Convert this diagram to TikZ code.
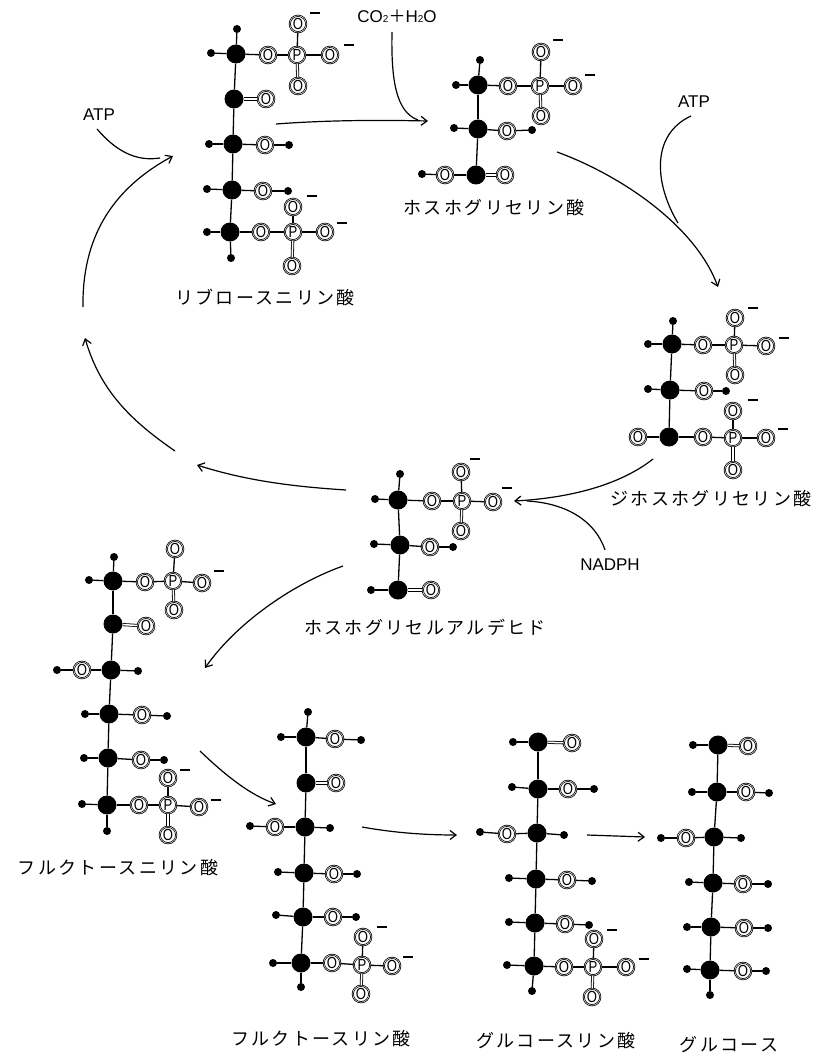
\documentclass[tikz,border=0pt]{standalone}
\usepackage{fontspec}
\setmainfont{Liberation Sans}
\newfontfamily\jp{Noto Sans CJK JP}
\newfontfamily\ringf[FakeStretch=0.82]{Liberation Sans}
\usetikzlibrary{arrows.meta}
\newcommand\lab{\fontsize{18}{18}\selectfont\jp\addfontfeature{LetterSpace=13}}
\tikzset{
 carb/.style={circle,fill=black,minimum size=19pt,inner sep=0pt},
 hyd/.style={circle,fill=black,minimum size=8pt,inner sep=0pt},
 oxy/.style={circle,draw=black,line width=.75pt,double=white,double distance=.5pt,fill=white,minimum size=16.5pt,inner sep=0pt,font=\ringf\fontsize{16}{16}\selectfont},
 bond/.style={line width=1.3pt,black},
 dbl/.style={line width=.8pt,double=white,double distance=1.5pt,black},
 chg/.style={fill=black,minimum width=10pt,minimum height=1.4pt,inner sep=0pt},
 flow/.style={line width=1.2pt,-{Straight Barb[length=6pt,width=9pt]}},
 feed/.style={line width=1.2pt},
 note/.style={font=\fontsize{17}{17}\selectfont,inner sep=0pt},
 lbl/.style={inner sep=0pt}
}
\begin{document}
\begin{tikzpicture}[x=1pt,y=-1pt]
\useasboundingbox (0,0) rectangle (830,1056);
% carbons
\foreach \n/\x/\y in {
 a1/236/54,a2/234/99,a3/233/144,a4/232/190,a5/230/232,
 b1/478/85,b2/478/129,b3/476/175,
 c1/672/344,c2/670/390,c3/669/437,
 d1/398/500,d2/400/545,d3/398/590,
 e1/113/581,e2/113/624,e3/111/670,e4/109/714,e5/108/758,e6/107/805,
 f1/306/737,f2/306/783,f3/305/827,f4/304/873,f5/303/917,f6/301/963,
 g1/538/742,g2/538/789,g3/537/833,g4/536/879,g5/535/923,g6/534/966,
 h1/718/745,h2/717/792,h3/714/837,h4/713/883,h5/711/927,h6/710/970}
 \node[carb] (\n) at (\x,\y) {};
% hydrogens
\foreach \n/\x/\y in {
 aT/237/29,aL/211/53,a3L/209/144,a3R/289/145,a4L/207/189,a4R/288/191,a5L/207/232,a5B/231/258,
 bT/480/60,bL/456/85,b2L/454/128,b2R/532/130,b3L/422/174,
 cT/673/321,cL/648/344,c2L/648/389,c2R/726/391,
 dT/400/474,dL/375/499,d2L/374/544,d2R/453/547,d3L/371/590,
 eT/114/557,eL/89/580,e3L/57/670,e3R/138/671,e4L/85/714,e4R/167/716,e5L/84/758,e5R/164/760,e6L/82/804,e6B/107/831,
 fT/308/712,fL/281/737,fR/361/740,f3L/250/826,f3R/330/828,f4L/278/872,f4R/357/874,f5L/276/915,f5R/356/917,f6L/273/963,f6B/301/987,
 g1L/513/742,g2L/512/787,g2R/594/789,g3L/480/832,g3R/564/835,g4L/509/878,g4R/592/881,g5L/509/922,g5R/589/925,g6L/507/965,g6B/532/991,
 h1L/693/745,h2L/692/792,h2R/769/793,h3L/661/838,h3R/741/838,h4L/689/882,h4R/768/884,h5L/687/927,h5R/768/928,h6L/687/969,h6R/766/971,h6B/710/995}
 \node[hyd] (\n) at (\x,\y) {};
% oxygens
\foreach \n/\x/\y in {
 aO1/268/55,aOt/298/24,aOb/298/86,aOr/330/55,a2O/266/99,a3O/265/145,a4O/263/191,a5O/261/232,a5t/293/207,a5b/292/266,a5r/325/232,
 bO1/508/86,bOt/541/52,bOb/541/116,bOr/573/86,b2O/507/131,b3O/445/175,b3D/505/175,
 cO1/703/345,cOt/735/318,cOb/735/375,cOr/766/346,c2O/704/391,c3O/638/437,c3D/703/437,c3t/733/411,c3b/733/470,c3r/766/438,
 dO1/432/501,dOt/461/472,dOb/461/531,dOr/493/502,d2O/430/547,d3O/431/590,
 eO1/145/582,eOt/175/549,eOb/174/610,eOr/202/583,e2O/146/626,e3O/82/670,e4O/142/715,e5O/141/760,e6O/139/805,e6t/168/778,e6b/168/835,e6r/199/807,
 fO1/335/739,f2O/336/783,f3O/275/827,f4O/334/874,f5O/333/917,f6O/332/963,f6t/363/937,f6b/361/994,f6r/392/966,
 gD/572/743,g2O/568/789,g3O/507/834,g4O/567/880,g5O/565/924,g6O/564/967,g6t/594/939,g6b/592/997,g6r/626/967,
 hD/748/746,h2O/746/792,h3O/686/838,h4O/743/884,h5O/744/928,h6O/743/971}
 \node[oxy] (\n) at (\x,\y) {O};
% phosphorus
\foreach \n/\x/\y in {aP/297/55,a5P/293/232,bP/540/86,cP/734/345,c3P/733/438,dP/462/501,eP/173/581,e6P/168/805,f6P/362/965,g6P/593/967}
 \node[oxy] (\n) at (\x,\y) {P};
% single bonds
\foreach \p/\q in {
 a1/a2,a2/a3,a3/a4,a4/a5,a1/aT,a1/aL,a1/aO1,aO1/aP,aP/aOt,aP/aOr,a3/a3L,a3/a3O,a3O/a3R,a4/a4L,a4/a4O,a4O/a4R,a5/a5L,a5/a5B,a5/a5O,a5O/a5P,a5P/a5t,a5P/a5r,
 b1/b2,b2/b3,b1/bT,b1/bL,b1/bO1,bO1/bP,bP/bOt,bP/bOr,b2/b2L,b2/b2O,b2O/b2R,b3/b3O,b3O/b3L,
 c1/c2,c2/c3,c1/cT,c1/cL,c1/cO1,cO1/cP,cP/cOt,cP/cOr,c2/c2L,c2/c2O,c2O/c2R,c3/c3O,c3/c3D,c3D/c3P,c3P/c3t,c3P/c3r,
 d1/d2,d2/d3,d1/dT,d1/dL,d1/dO1,dO1/dP,dP/dOt,dP/dOr,d2/d2L,d2/d2O,d2O/d2R,d3/d3L,
 e1/e2,e2/e3,e3/e4,e4/e5,e5/e6,e1/eT,e1/eL,e1/eO1,eO1/eP,eP/eOt,eP/eOr,e3/e3O,e3O/e3L,e3/e3R,e4/e4L,e4/e4O,e4O/e4R,e5/e5L,e5/e5O,e5O/e5R,e6/e6L,e6/e6B,e6/e6O,e6O/e6P,e6P/e6t,e6P/e6r,
 f1/f2,f2/f3,f3/f4,f4/f5,f5/f6,f1/fT,f1/fL,f1/fO1,fO1/fR,f3/f3O,f3O/f3L,f3/f3R,f4/f4L,f4/f4O,f4O/f4R,f5/f5L,f5/f5O,f5O/f5R,f6/f6L,f6/f6B,f6/f6O,f6O/f6P,f6P/f6t,f6P/f6r,
 g1/g2,g2/g3,g3/g4,g4/g5,g5/g6,g1/g1L,g2/g2L,g2/g2O,g2O/g2R,g3/g3O,g3O/g3L,g3/g3R,g4/g4L,g4/g4O,g4O/g4R,g5/g5L,g5/g5O,g5O/g5R,g6/g6L,g6/g6B,g6/g6O,g6O/g6P,g6P/g6t,g6P/g6r,
 h1/h2,h2/h3,h3/h4,h4/h5,h5/h6,h1/h1L,h2/h2L,h2/h2O,h2O/h2R,h3/h3O,h3O/h3L,h3/h3R,h4/h4L,h4/h4O,h4O/h4R,h5/h5L,h5/h5O,h5O/h5R,h6/h6L,h6/h6B,h6/h6O,h6O/h6R}
 \draw[bond] (\p) -- (\q);
% double bonds
\foreach \p/\q in {aP/aOb,a2/a2O,a5P/a5b,bP/bOb,b3/b3D,cP/cOb,c3P/c3b,dP/dOb,d3/d3O,eP/eOb,e2/e2O,e6P/e6b,f2/f2O,f6P/f6b,g1/gD,g6P/g6b,h1/hD}
 \draw[dbl] (\p) -- (\q);
% charges
\foreach \n/\x/\y in {ma/315/13,mb/349/45,mc/312/196,md/342/223,me/558/40,mf/590/75,mg/753/308,mh/784/338,mi/753/400,mj/783/429,mk/475/459,ml/507/488,mm/219/571,mn/185/770,mo/216/800,mp/382/927,mq/408/957,mr/612/930,ms/644/959}
 \node[chg] (\n) at (\x,\y) {};
% labels
\node[lbl] (Lc) at (265,298) {\lab リブロースニリン酸};
\node[lbl] (Lb) at (494,208) {\lab ホスホグリセリン酸};
\node[lbl] (Ld) at (711,499) {\lab ジホスホグリセリン酸};
\node[lbl] (Le) at (425,627) {\lab ホスホグリセルアルデヒド};
\node[lbl] (Lf) at (118,868) {\lab フルクトースニリン酸};
\node[lbl] (Lg) at (321,1039) {\lab フルクトースリン酸};
\node[lbl] (Lh) at (556,1041) {\lab グルコースリン酸};
\node[lbl] (Li) at (729,1045) {\lab グルコース};
\node[note] (co) at (397,16) {CO{\fontsize{10}{10}\selectfont 2}{\jp ＋}H{\fontsize{10}{10}\selectfont 2}O};
\node[note] (atpa) at (99,115) {ATP};
\node[note] (atpb) at (694,102) {ATP};
\node[note] (nad) at (610,565) {NADPH};
% arrow ends
\foreach \n/\x/\y in {
 s1/276/124,t1/428/121,s2/392/32,t2/418/120,s3/83/307,t3/173/156,s4/97/129,t4/160/158,s5/175/451,t5/85/338,
 s6/346/490,t6/197/465,s7/557/152,t7/718/287,s8/691/116,t8/678/223,s9/653/459,t9/514/501,s10/605/550,t10/527/501,
 s11/343/566,t11/205/668,s12/200/751,t12/276/804,s13/362/827,t13/457/835,s14/587/835,t14/645/837}
 \coordinate (\n) at (\x,\y);
\draw[flow] (s1) .. controls (330,120) and (380,120) .. (t1);
\draw[feed] (s2) .. controls (391,80) and (396,112) .. (t2);
\draw[flow] (s3) .. controls (82,240) and (110,190) .. (t3);
\draw[feed] (s4) .. controls (115,150) and (135,162) .. (t4);
\draw[flow] (s5) .. controls (130,420) and (100,390) .. (t5);
\draw[flow] (s6) .. controls (300,487) and (250,482) .. (t6);
\draw[flow] (s7) .. controls (620,175) and (695,225) .. (t7);
\draw[feed] (s8) .. controls (650,135) and (655,185) .. (t8);
\draw[flow] (s9) .. controls (620,485) and (570,498) .. (t9);
\draw[feed] (s10) .. controls (595,520) and (565,503) .. (t10);
\draw[flow] (s11) .. controls (290,585) and (235,625) .. (t11);
\draw[flow] (s12) .. controls (225,775) and (250,795) .. (t12);
\draw[flow] (s13) .. controls (390,832) and (420,835) .. (t13);
\draw[flow] (s14) -- (t14);
\end{tikzpicture}
\end{document}
